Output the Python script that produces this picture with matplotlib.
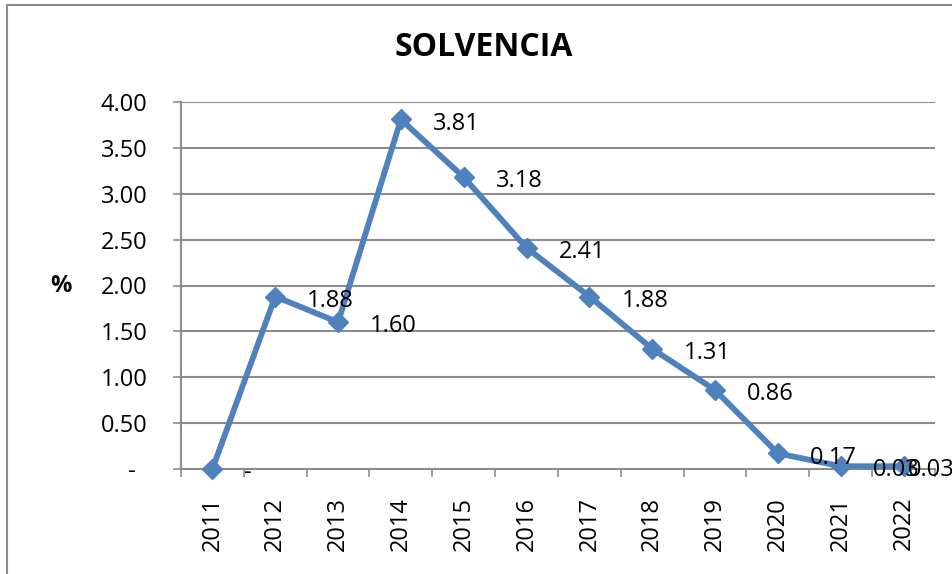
import matplotlib
matplotlib.use('Agg')
import matplotlib.pyplot as plt
from matplotlib.patches import Rectangle
from matplotlib.ticker import FixedLocator, FuncFormatter, NullFormatter
import numpy as np

# data
years = ['2011', '2012', '2013', '2014', '2015', '2016',
         '2017', '2018', '2019', '2020', '2021', '2022']
solvencia = [0.00, 1.88, 1.60, 3.81, 3.18, 2.41, 1.88, 1.31, 0.86, 0.17, 0.03, 0.03]
y_ticks = [0.0, 0.5, 1.0, 1.5, 2.0, 2.5, 3.0, 3.5, 4.0]

line_color = '#4F81BD'
grid_color = '#8C8C8C'

plt.rcParams['font.family'] = ['Open Sans', 'DejaVu Sans']

fig = plt.figure(figsize=(9.53, 5.74), dpi=100)
ax = fig.add_axes([181 / 953, 1 - 469 / 574, (935 - 181) / 953, (469 - 102) / 574])

x = np.arange(len(years))
ax.plot(x, solvencia, color=line_color, lw=4.2, marker='D', ms=10.5,
        mfc=line_color, mec=line_color, zorder=3, clip_on=False)


def fmt_value(v):
    return '-' if v == 0 else f'{v:.2f}'


# data labels to the right of each point
for i, v in enumerate(solvencia):
    dx = 3 if i == len(solvencia) - 1 else 23
    ax.annotate(fmt_value(v), (x[i], v), xytext=(dx, -3), textcoords='offset points',
                ha='left', va='center', fontsize=17, color='black',
                annotation_clip=False, zorder=4)

# axes
ax.set_xlim(-0.5, len(years) - 0.5)
ax.set_ylim(0, 4)
ax.set_yticks(y_ticks)
ax.yaxis.set_major_formatter(FuncFormatter(lambda v, p: '-  ' if v == 0 else f'{v:.2f}'))
ax.tick_params(axis='y', length=6, width=1.2, color=grid_color, pad=18, labelsize=17)

ax.xaxis.set_major_locator(FixedLocator(np.arange(-0.5, len(years), 1.0)))
ax.xaxis.set_major_formatter(NullFormatter())
ax.xaxis.set_minor_locator(FixedLocator(x))
ax.set_xticklabels(years, minor=True, rotation=90, fontsize=17)
ax.tick_params(axis='x', which='major', length=6, width=1.2, color=grid_color)
ax.tick_params(axis='x', which='minor', length=0, pad=20)
for lbl in ax.get_xticklabels(minor=True):
    lbl.set_va('top')

ax.grid(axis='y', color=grid_color, lw=1.5)
ax.set_axisbelow(True)
for side in ['top', 'right']:
    ax.spines[side].set_visible(False)
for side in ['left', 'bottom']:
    ax.spines[side].set_color(grid_color)
    ax.spines[side].set_linewidth(1.5)

ax.set_ylabel('%', rotation=0, fontsize=17, fontweight='bold', ha='center', va='center')
ax.yaxis.set_label_coords(-0.159, 0.5)

fig.text(484 / 953, 1 - 48 / 574, 'SOLVENCIA', ha='center', va='center',
         fontsize=23, fontweight='bold')

# chart area border (cropped on the right and bottom)
fig.patches.append(Rectangle((7 / 953, -0.1), 1.2, 1.1 - 4.5 / 574, transform=fig.transFigure,
                             fill=False, edgecolor=grid_color, lw=1.5))

plt.savefig('out.png', dpi=100)
